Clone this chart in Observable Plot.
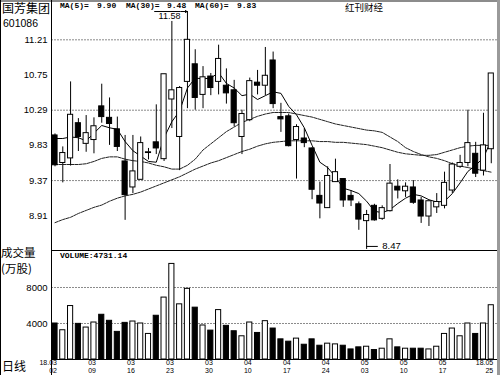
<!DOCTYPE html>
<html><head><meta charset="utf-8">
<script src="https://cdn.jsdelivr.net/npm/d3@7"></script>
<script src="https://cdn.jsdelivr.net/npm/@observablehq/plot@0.6"></script>
<style>
body{margin:0;background:#fff;}
#wrap{position:relative;width:500px;height:375px;overflow:hidden;background:#fff;font-family:"Liberation Sans",Arial,sans-serif;}
.lbl{position:absolute;white-space:pre;color:#000;line-height:1;}
.cn{font-family:"Noto Sans CJK SC",sans-serif;}
.mono{font-family:"Liberation Mono","DejaVu Sans Mono",monospace;font-size:8px;font-weight:bold;}
.pl{position:absolute;left:0;}
.ln{position:absolute;}
</style></head><body><div id="wrap"></div>
<script>
// ---- data ----
const dates = ["18.03/02","03/05","03/06","03/07","03/08","03/09","03/12","03/13","03/14","03/15","03/16","03/19","03/20","03/21","03/22","03/23","03/26","03/27","03/28","03/29","03/30",
"04/02","04/03","04/04","04/09","04/10","04/11","04/12","04/13","04/16","04/17","04/18","04/19","04/20","04/23","04/24","04/25","04/26","04/27",
"05/02","05/03","05/04","05/07","05/08","05/09","05/10","05/11","05/14","05/15","05/16","05/17","05/18","05/21","05/22","05/23","05/24","18.05/25"];
const open  = [9.96,9.60,9.66,10.12,9.85,9.90,10.34,10.19,10.04,9.62,9.28,9.38,9.73,9.87,9.65,10.43,9.94,10.66,10.89,10.49,10.73,10.66,10.61,10.55,9.94,10.16,10.65,10.61,10.94,10.20,10.21,9.90,9.92,9.79,9.17,9.01,9.35,9.39,9.17,9.06,8.84,9.04,8.87,8.97,9.29,9.23,9.28,9.11,8.90,9.02,9.04,9.24,9.55,9.60,9.72,9.50,9.78];
const high  = [9.98,9.81,10.66,10.18,10.22,10.19,10.63,10.45,10.20,9.96,9.96,9.94,9.79,10.36,10.76,11.45,10.60,11.58,11.08,10.86,10.77,11.14,10.83,10.68,10.29,10.71,10.81,11.11,11.05,10.38,10.24,10.10,10.05,9.80,9.35,9.55,9.65,9.39,9.24,9.09,8.98,9.06,9.04,9.58,9.38,9.34,9.37,9.15,9.10,9.20,9.48,9.60,9.70,10.29,9.87,10.25,10.77];
const low   = [9.55,9.34,9.56,9.75,9.74,9.72,10.12,9.83,9.75,8.85,9.20,9.38,9.64,9.71,9.62,10.05,9.50,10.31,10.29,10.31,10.48,10.49,10.37,10.07,9.71,10.14,10.49,10.48,10.31,10.00,9.81,9.39,9.80,9.12,8.87,9.01,9.35,9.02,9.03,8.72,8.47,8.84,8.85,8.96,9.13,9.15,9.06,8.81,8.77,8.94,9.00,9.20,9.53,9.55,9.41,9.43,9.59];
const close = [9.57,9.73,10.23,9.94,9.99,10.08,10.20,10.11,9.81,9.18,9.49,9.86,9.74,9.79,10.76,10.55,10.58,11.21,10.45,10.72,10.58,10.96,10.51,10.12,10.24,10.67,10.61,10.74,10.37,10.17,9.82,10.07,9.86,9.25,9.07,9.43,9.48,9.11,9.11,8.86,8.92,8.85,9.01,9.33,9.24,9.29,9.08,8.90,9.10,9.09,9.34,9.58,9.60,9.86,9.46,9.83,10.77];
const volume = [4000,3250,5940,3960,3550,4110,4970,4300,3070,4070,4220,4000,2840,4860,6880,10620,6130,7850,5760,3780,3210,5490,3740,3140,2580,4110,2950,4260,3440,2240,1980,2320,1640,2240,1530,1760,1680,1530,1120,1350,1420,1050,1200,2240,1350,1200,1200,1200,1120,1420,2840,3440,2580,4000,2840,4000,6030];
const ma5  = [9.92,9.92,9.94,9.93,9.89,9.99,10.09,10.06,10.04,9.88,9.76,9.69,9.62,9.61,9.93,10.14,10.28,10.58,10.71,10.70,10.71,10.78,10.64,10.58,10.48,10.50,10.43,10.48,10.53,10.51,10.34,10.23,10.06,9.83,9.61,9.54,9.42,9.27,9.24,9.20,9.10,8.97,8.95,8.99,9.07,9.14,9.19,9.17,9.12,9.09,9.10,9.20,9.34,9.49,9.57,9.67,9.90];
const ma30 = [9.58,9.58,9.58,9.58,9.59,9.62,9.66,9.68,9.68,9.65,9.63,9.62,9.60,9.57,9.55,9.52,9.52,9.57,9.65,9.77,9.85,9.93,10.01,10.07,10.13,10.17,10.21,10.24,10.26,10.26,10.26,10.24,10.22,10.20,10.17,10.14,10.11,10.09,10.07,10.05,10.03,10.02,10.00,9.94,9.88,9.80,9.75,9.71,9.68,9.66,9.63,9.59,9.56,9.54,9.52,9.50,9.48];
const ma60 = [8.82,8.86,8.89,8.94,8.98,9.02,9.05,9.10,9.14,9.17,9.19,9.22,9.26,9.30,9.34,9.38,9.42,9.47,9.52,9.56,9.60,9.63,9.67,9.71,9.75,9.78,9.82,9.85,9.87,9.88,9.89,9.89,9.89,9.89,9.88,9.88,9.87,9.87,9.86,9.85,9.84,9.82,9.80,9.77,9.74,9.72,9.71,9.70,9.70,9.71,9.74,9.77,9.80,9.82,9.83,9.83,9.83];
const priceTicks = [11.21,10.75,10.29,9.83,9.37,8.91];
const priceGrid = [11.21,10.29,9.37];
const volTicks = [8000,4000];
const labelIdx = [0,5,10,15,20,25,30,35,40,45,50,56];
const highMark = {value:11.58, text:"11.58"};
const lowMark = {value:8.47, text:"8.47"};

const rows = dates.map((d,i)=>({i, date:d, open:open[i], high:high[i], low:low[i], close:close[i], volume:volume[i], ma5:ma5[i], ma30:ma30[i], ma60:ma60[i]}));
const up = d => d.close >= d.open;
const hiRow = rows.reduce((a,b)=> b.high > a.high ? b : a);
const loRow = rows.reduce((a,b)=> b.low < a.low ? b : a);

const wrap = document.getElementById("wrap");
const xDomain = [-0.45, 56.8];
const half = 0.33;

const price = Plot.plot({
  width:500, height:250, marginLeft:51, marginRight:3, marginTop:0, marginBottom:0,
  style:{background:"transparent", overflow:"visible", fontFamily:"Liberation Sans, Arial, sans-serif", fontSize:"9.5px", color:"#000"},
  x:{type:"linear", domain:xDomain, axis:null},
  y:{type:"linear", domain:[8.456, 11.724], axis:null},
  marks:[
    Plot.ruleY(priceGrid, {stroke:"#8a8a8a", strokeDasharray:"2,1"}),
    Plot.axisY(priceTicks, {anchor:"left", label:null, tickSize:0, tickPadding:4, tickFormat:d3.format(".2f"), fontSize:9.5}),
    Plot.line(rows, {x:"i", y:"ma60", stroke:"#222", strokeWidth:1, strokeDasharray:"3,1"}),
    Plot.line(rows, {x:"i", y:"ma30", stroke:"#222", strokeWidth:1, strokeDasharray:"3,1"}),
    Plot.line(rows, {x:"i", y:"ma5", stroke:"#000", strokeWidth:1}),
    Plot.ruleX(rows, {x:"i", y1:"low", y2:"high", stroke:"#000", strokeWidth:1}),
    Plot.rectY(rows, {x1:d=>d.i-half, x2:d=>d.i+half, y1:"open", y2:"close", fill:d=>up(d)?"#fff":"#000", stroke:"#000", strokeWidth:1}),
    Plot.arrow([hiRow], {x1:d=>d.i-0.8, y1:highMark.value, x2:d=>d.i-0.05, y2:highMark.value, stroke:"#000", strokeWidth:1, headLength:4}),
    Plot.ruleY([highMark.value], {x1:hiRow.i-4.2, x2:hiRow.i-0.8, stroke:"#000", strokeWidth:1}),
    Plot.text([hiRow], {x:d=>d.i-0.9, y:highMark.value, text:()=>highMark.text, textAnchor:"end", dy:4.5, fontSize:9, fill:"#000"}),
    Plot.ruleY([lowMark.value], {x1:loRow.i, x2:loRow.i+1.5, dy:-3, stroke:"#000", strokeWidth:1}),
    Plot.text([loRow], {x:d=>d.i+2, y:lowMark.value, text:()=>lowMark.text, textAnchor:"start", dy:-3, fontSize:9.5, fill:"#000"})
  ]
});
price.classList.add("pl"); price.style.top = "0px";
wrap.appendChild(price);

const vol = Plot.plot({
  width:500, height:125, marginLeft:51, marginRight:3, marginTop:0, marginBottom:16,
  style:{background:"transparent", overflow:"visible", fontFamily:"Liberation Sans, Arial, sans-serif", fontSize:"9.5px", color:"#000"},
  x:{type:"linear", domain:xDomain, axis:null},
  y:{type:"linear", domain:[0, 12111], axis:null},
  marks:[
    Plot.ruleY(volTicks, {stroke:"#8a8a8a", strokeDasharray:"2,1"}),
    Plot.axisY(volTicks, {anchor:"left", label:null, tickSize:0, tickPadding:4, tickFormat:d3.format("d"), fontSize:9.5}),
    Plot.rectY(rows, {x1:d=>d.i-half, x2:d=>d.i+half, y1:0, y2:"volume", fill:d=>up(d)?"#fff":"#000", stroke:"#000", strokeWidth:1}),
    Plot.axisX(labelIdx, {anchor:"bottom", label:null, tickSize:0, tickPadding:0, textAnchor:"end", dx:2, fontSize:7, lineHeight:1.1, tickFormat:i=>dates[i].replace("/","\n")})
  ]
});
vol.classList.add("pl"); vol.style.top = "250px";
wrap.appendChild(vol);

// frame lines
const lines = [
  {l:0,t:0,w:500,h:2,c:"#8c8c8c"},
  {l:497,t:0,w:3,h:375,c:"#9a9a9a"},
  {l:0,t:0,w:1,h:375,c:"#000"},
  {l:51,t:0,w:1,h:375,c:"#000"},
  {l:51,t:250,w:446,h:1,c:"#000"},
  {l:51,t:359,w:446,h:1,c:"#000"}
];
for (const s of lines){const e=document.createElement("div");e.className="ln";Object.assign(e.style,{left:s.l+"px",top:s.t+"px",width:s.w+"px",height:s.h+"px",background:s.c});wrap.appendChild(e);}

const texts = [
  {t:"国芳集团", l:2, y:2, cls:"cn", fs:12},
  {t:"601086", l:3, y:18, cls:"", fs:10.5},
  {t:"MA(5)=", l:60, y:2, cls:"mono"},
  {t:"9.90", l:97, y:2, cls:"mono"},
  {t:"MA(30)=", l:126, y:2, cls:"mono"},
  {t:"9.48", l:167, y:2, cls:"mono"},
  {t:"MA(60)=", l:195, y:2, cls:"mono"},
  {t:"9.83", l:237, y:2, cls:"mono"},
  {t:"红刊财经", l:345, y:3, cls:"cn", fs:9.5},
  {t:"VOLUME:4731.14", l:60, y:252, cls:"mono"},
  {t:"成交量", l:1, y:247, cls:"cn", fs:11.5},
  {t:"(万股)", l:1, y:263, cls:"cn", fs:11.5},
  {t:"日线", l:2, y:360, cls:"cn", fs:12}
];
for (const s of texts){const e=document.createElement("div");e.className="lbl "+s.cls;e.textContent=s.t;e.style.left=s.l+"px";e.style.top=s.y+"px";if(s.fs)e.style.fontSize=s.fs+"px";wrap.appendChild(e);}
</script></body></html>
